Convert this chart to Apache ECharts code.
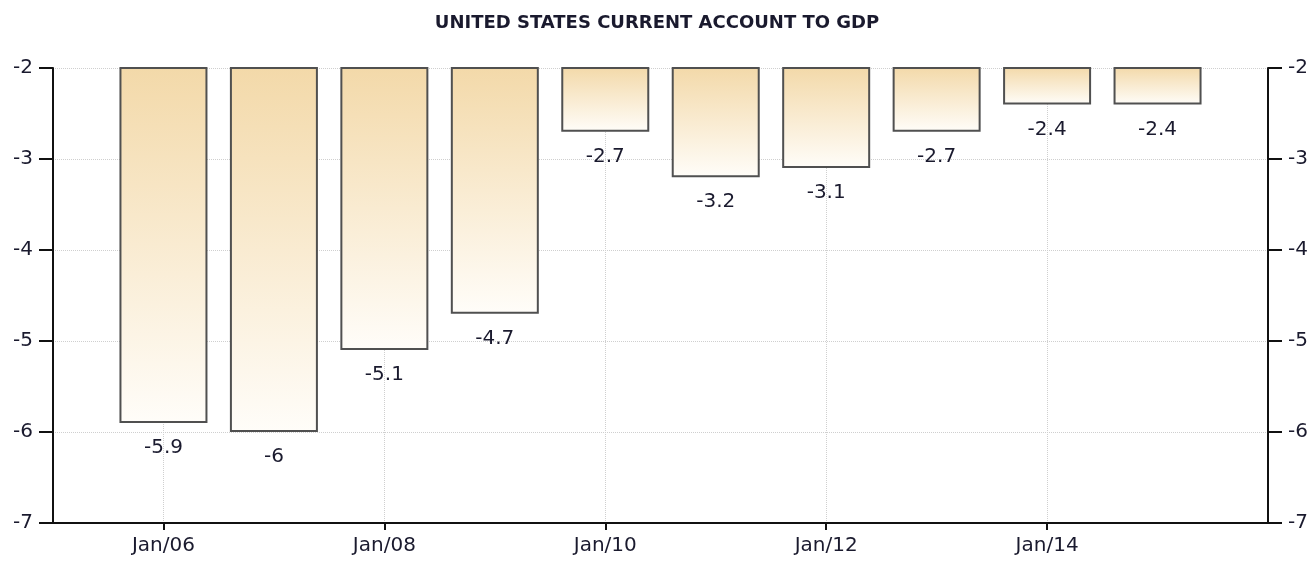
<!DOCTYPE html>
<html>
<head>
<meta charset="utf-8">
<script src="https://cdn.jsdelivr.net/npm/echarts@6/dist/echarts.min.js"></script>
<style>
  html, body { margin: 0; padding: 0; background: #fff; }
  #myChart { width: 1314px; height: 561px; }
</style>
</head>
<body>
<div id="myChart"></div>
<script>
// 数据
var years = [2006, 2007, 2008, 2009, 2010, 2011, 2012, 2013, 2014, 2015];
var values = [-5.9, -6, -5.1, -4.7, -2.7, -3.2, -3.1, -2.7, -2.4, -2.4];
var xTickYears = [2006, 2008, 2010, 2012, 2014];
var yTicks = [-7, -6, -5, -4, -3, -2];

var textColor = '#1a1a2e';
var fontName = 'DejaVu Sans';

var barData = [];
for (var i = 0; i < years.length; i++) {
  barData.push([years[i], values[i]]);
}

var myChart = echarts.init(document.getElementById('myChart'));
var option = {
  animation: false,
  title: {
    text: 'UNITED STATES CURRENT ACCOUNT TO GDP',
    left: 'center',
    top: 9,
    textStyle: {
      fontFamily: fontName,
      fontSize: 18,
      fontWeight: 'bold',
      color: textColor
    }
  },
  grid: {
    left: 53,
    right: 46,
    top: 68,
    bottom: 38
  },
  xAxis: {
    type: 'value',
    min: 2005,
    max: 2016,
    axisLine: { show: true, lineStyle: { color: '#111', width: 2 } },
    axisTick: {
      show: true,
      customValues: xTickYears,
      length: 7,
      lineStyle: { color: '#111', width: 2 }
    },
    axisLabel: {
      customValues: xTickYears,
      margin: 13,
      fontFamily: fontName,
      fontSize: 20,
      color: textColor,
      formatter: function (v) {
        return 'Jan/' + String(v).slice(2);
      }
    },
    splitLine: {
      show: true,
      lineStyle: { color: '#cfcfcf', type: 'dotted', width: 1 }
    }
  },
  yAxis: [
    {
      type: 'value',
      position: 'left',
      min: yTicks[0],
      max: yTicks[yTicks.length - 1],
      interval: 1,
      axisLine: { show: true, lineStyle: { color: '#111', width: 2 } },
      axisTick: { show: true, length: 14, lineStyle: { color: '#111', width: 2 } },
      axisLabel: {
        margin: 20,
        fontFamily: fontName,
        fontSize: 20,
        color: textColor
      },
      splitLine: {
        show: true,
        lineStyle: { color: '#cfcfcf', type: 'dotted', width: 1 }
      }
    },
    {
      type: 'value',
      position: 'right',
      min: yTicks[0],
      max: yTicks[yTicks.length - 1],
      interval: 1,
      axisLine: { show: true, lineStyle: { color: '#111', width: 2 } },
      axisTick: { show: true, length: 14, lineStyle: { color: '#111', width: 2 } },
      axisLabel: {
        margin: 20,
        fontFamily: fontName,
        fontSize: 20,
        color: textColor
      },
      splitLine: { show: false }
    }
  ],
  series: [
    {
      name: 'Current Account to GDP',
      type: 'bar',
      yAxisIndex: 0,
      barWidth: 88,
      clip: true,
      data: barData,
      itemStyle: {
        color: new echarts.graphic.LinearGradient(0, 0, 0, 1, [
          { offset: 0, color: '#f3d9a9' },
          { offset: 1, color: '#fffdf9' }
        ]),
        borderColor: '#505050',
        borderWidth: 2
      },
      label: {
        show: true,
        position: 'bottom',
        distance: 15,
        fontFamily: fontName,
        fontSize: 20,
        color: textColor,
        formatter: function (p) {
          return String(p.value[1]);
        }
      }
    }
  ]
};
myChart.setOption(option);
</script>
</body>
</html>
